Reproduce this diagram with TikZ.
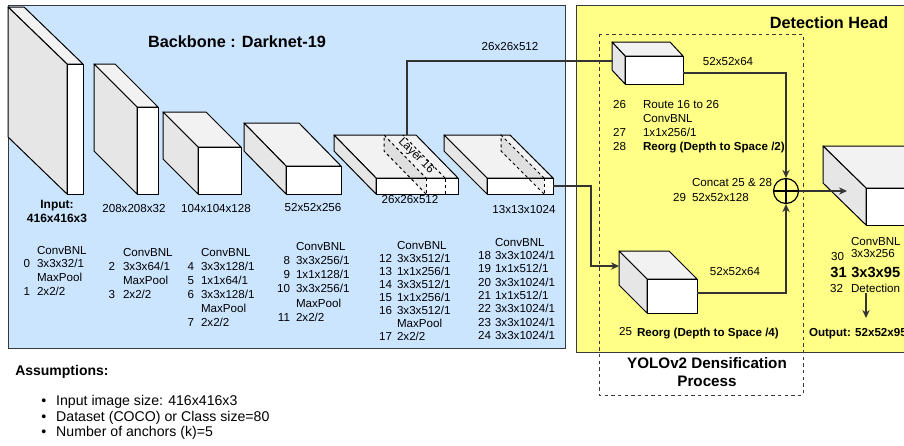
\documentclass[tikz,border=0pt]{standalone}
\usepackage{fontspec}
\setmainfont{Liberation Sans}
\usetikzlibrary{arrows.meta}
\definecolor{bbblue}{HTML}{CCE5FF}
\definecolor{dhyellow}{HTML}{FFFF88}
\definecolor{topface}{HTML}{F2F2F2}
\definecolor{sideface}{HTML}{E6E6E6}
\definecolor{panelline}{HTML}{36393D}
\definecolor{connline}{HTML}{333333}

\tikzset{
  cubeline/.style={draw=black, line width=0.75pt, line join=round},
  panel/.style={draw=panelline, line width=0.75pt},
  conn/.style={draw=connline, line width=0.9pt},
  arr/.style={conn, -{Stealth[length=6pt,width=5.5pt]}},
  txt/.style={inner sep=0pt, outer sep=0pt, font=\fontsize{8.7}{10.4}\selectfont},
  boldtxt/.style={inner sep=0pt, outer sep=0pt, font=\fontsize{8.7}{10.4}\selectfont\bfseries},
  title/.style={inner sep=0pt, font=\fontsize{12.2}{14}\selectfont\bfseries},
  slicefill/.style={fill=black, fill opacity=0.08},
  sliceline/.style={draw=black, line width=0.75pt, dash pattern=on 2.2pt off 2.2pt},
}

\newcommand\mycuboid[7]{%
  \filldraw[cubeline,fill=topface] (#2,#3) -- ++(#6,#7) -- ++({#4-#2},0) -- (#4,#3) -- cycle;
  \filldraw[cubeline,fill=sideface] (#2,#3) -- ++(#6,#7) -- ++(0,{#5-#3}) -- (#2,#5) -- cycle;
  \node[cubeline,fill=white,inner sep=0pt,outer sep=0pt,anchor=north west,
        minimum width={(#4-#2)*0.75pt},minimum height={(#5-#3)*0.75pt}] (#1) at (#2,#3) {};
}
\newcommand\myslice[6]{%
  \fill[slicefill] (#1,#2) -- ++(#5,#6) -- ++(0,{#4-#2}) -- (#1,#4) -- cycle;
  \draw[sliceline] (#1,#4) -- ++(#5,#6) -- ++(0,{#2-#4}) -- (#1,#2);
  \draw[sliceline] (#1,#2) rectangle (#3,#4);
  \draw[sliceline] (#3,#2) -- ++(#5,#6);
}
\newcommand\layercol[7]{%
  \node[inner sep=0pt,outer sep=0pt,font=\fontsize{8.7}{#5}\selectfont,anchor=north east] (#1n) at (#2,{#4-0.7*#5/0.75+4.2}) {\begin{tabular}{@{}r@{}}#6\end{tabular}};
  \node[inner sep=0pt,outer sep=0pt,font=\fontsize{8.7}{#5}\selectfont,anchor=north west] (#1t) at (#3,{#4-0.7*#5/0.75+4.2}) {\begin{tabular}{@{}l@{}}#7\end{tabular}};
}

\begin{document}
\begin{tikzpicture}[x=0.75pt,y=-0.75pt]
\useasboundingbox (0,0) rectangle (904,446);
\clip (0,0) rectangle (904,446);

% panels
\filldraw[panel,fill=bbblue] (8,5) rectangle (565,348);
\filldraw[panel,fill=dhyellow] (576,5) rectangle (915,352);

% cuboids
\mycuboid{c1}{67}{64}{83}{194}{-59}{-57}
\mycuboid{c2}{137}{107}{158}{194}{-43}{-43}
\mycuboid{c3}{198}{147}{241}{194}{-35}{-35}
\mycuboid{c4}{286}{166}{341}{194}{-42}{-43}
\mycuboid{c5}{376}{178}{458}{194}{-42}{-43}
\mycuboid{c6}{487}{178}{553}{194}{-43}{-43}
\mycuboid{r26}{625}{56}{683}{84}{-13}{-14}
\mycuboid{reorg}{647}{279}{697}{313}{-28}{-28}
\mycuboid{big}{866}{188}{950}{225}{-43}{-42}

\myslice{426}{178}{445}{194}{-42}{-43}
\myslice{544}{178}{553}{194}{-43}{-43}
\node[txt, rotate=-45] (l16) at (416,156) {Layer 16};

% dashed densification box
\draw[draw=panelline, line width=0.75pt, dash pattern=on 2.5pt off 2.5pt] (599,34) rectangle (803,395);

% titles
\node[title] (bbt) at (237,42) {Backbone : Darknet-19};
\node[title] (dht) at (829,23) {Detection Head};
\node[inner sep=0pt, font=\fontsize{11.4}{13.5}\selectfont\bfseries, align=center] (yolo) at (707,372) {YOLOv2 Densification\\Process};

% size labels
\node[inner sep=0pt, font=\fontsize{9}{10.5}\selectfont\bfseries, align=center] (inlbl) at (57,211) {Input:\\416x416x3};
\node[txt] (s2) at (134,209) {208x208x32};
\node[txt] (s3) at (216,209) {104x104x128};
\node[txt] (s4) at (313,208) {52x52x256};
\node[txt] (s5) at (410,200) {26x26x512};
\node[txt] (s6) at (524,210) {13x13x1024};
\node[txt] (s16) at (510,47) {26x26x512};

% layer lists
\layercol{L1}{30}{37}{250}{10.3}{\\0\\\\1}{ConvBNL\\3x3x32/1\\MaxPool\\2x2/2}
\layercol{L2}{115}{123}{252}{10.5}{\\2\\\\3}{ConvBNL\\3x3x64/1\\MaxPool\\2x2/2}
\layercol{L3}{194}{201}{252}{10.5}{\\4\\5\\6\\\\7}{ConvBNL\\3x3x128/1\\1x1x64/1\\3x3x128/1\\MaxPool\\2x2/2}
\layercol{L4}{290}{296}{246}{10.65}{\\8\\9\\10\\\\11}{ConvBNL\\3x3x256/1\\1x1x128/1\\3x3x256/1\\MaxPool\\2x2/2}
\layercol{L5}{392}{397}{245}{9.75}{\\12\\13\\14\\15\\16\\\\17}{ConvBNL\\3x3x512/1\\1x1x256/1\\3x3x512/1\\1x1x256/1\\3x3x512/1\\MaxPool\\2x2/2}
\layercol{L6}{491}{495}{242}{10}{\\18\\19\\20\\21\\22\\23\\24}{ConvBNL\\3x3x1024/1\\1x1x512/1\\3x3x1024/1\\1x1x512/1\\3x3x1024/1\\3x3x1024/1\\3x3x1024/1}
\layercol{L7}{626}{643}{104}{10.7}{26\\\\27\\28}{Route 16 to 26\\ConvBNL\\1x1x256/1\\\textbf{Reorg (Depth to Space /2)}}

% detection head texts
\node[txt,anchor=west] (cc) at (692,183) {Concat 25 \& 28};
\node[txt,anchor=east] (n29) at (686,198) {29};
\node[txt,anchor=west] (cc2) at (692,198) {52x52x128};
\node[txt] (e1) at (728,62) {52x52x64};
\node[txt] (e2) at (735,272) {52x52x64};
\node[txt,anchor=east] (n25) at (632,332) {25};
\node[boldtxt,anchor=west] (rg4) at (637,334) {Reorg (Depth to Space /4)};
\node[txt,anchor=west] (h1) at (851,242) {ConvBNL};
\node[txt,anchor=east] (n30) at (844,257) {30};
\node[txt,anchor=west] (h2) at (851,254) {3x3x256};
\node[inner sep=0pt,font=\fontsize{11}{13}\selectfont\bfseries,anchor=east] (n31) at (847,272) {31};
\node[inner sep=0pt,font=\fontsize{11}{13}\selectfont\bfseries,anchor=west] (h3) at (851,272) {3x3x95};
\node[txt,anchor=east] (n32) at (843,289) {32};
\node[txt,anchor=west] (h4) at (851,288) {Detection};
\node[boldtxt,anchor=west] (out) at (809,334) {Output: 52x52x95};

% concat node
\node[circle, draw=black, line width=0.9pt, minimum size=18.75pt, inner sep=0pt] (ox) at (786,191) {};
\draw[line width=0.9pt] (ox.north) -- (ox.south) (ox.west) -- (ox.east);

% connectors
\coordinate (l16top) at (407,135);
\coordinate (r26in) at (613,61);
\draw[conn] (l16top) |- (r26in);
\coordinate (reorgin) at (619,266);
\draw[arr] (c6.east) -- ++(38,0) |- (reorgin);
\draw[arr] ([yshift=-2.25pt]r26.east) -| (ox.north);
\draw[arr] ([yshift=2.25pt]reorg.east) -| (ox.south);
\coordinate (bigin) at (847,191);
\draw[arr] (ox.east) -- (bigin);
\coordinate (detb) at (866,293);
\draw[arr] (detb) -- ++(0,25);

% assumptions
\node[inner sep=0pt,font=\fontsize{10.5}{12}\selectfont\bfseries,anchor=west] (asm) at (15,372) {Assumptions:};
\node[inner sep=0pt,font=\fontsize{10.6}{11.6}\selectfont,anchor=north west] (alist) at (41,394.5) {\begin{tabular}{@{}l@{\hspace{7.5pt}}l@{}}\textbullet & Input image size: 416x416x3\\ \textbullet & Dataset (COCO) or Class size=80\\ \textbullet & Number of anchors (k)=5\end{tabular}};
\end{tikzpicture}
\end{document}
